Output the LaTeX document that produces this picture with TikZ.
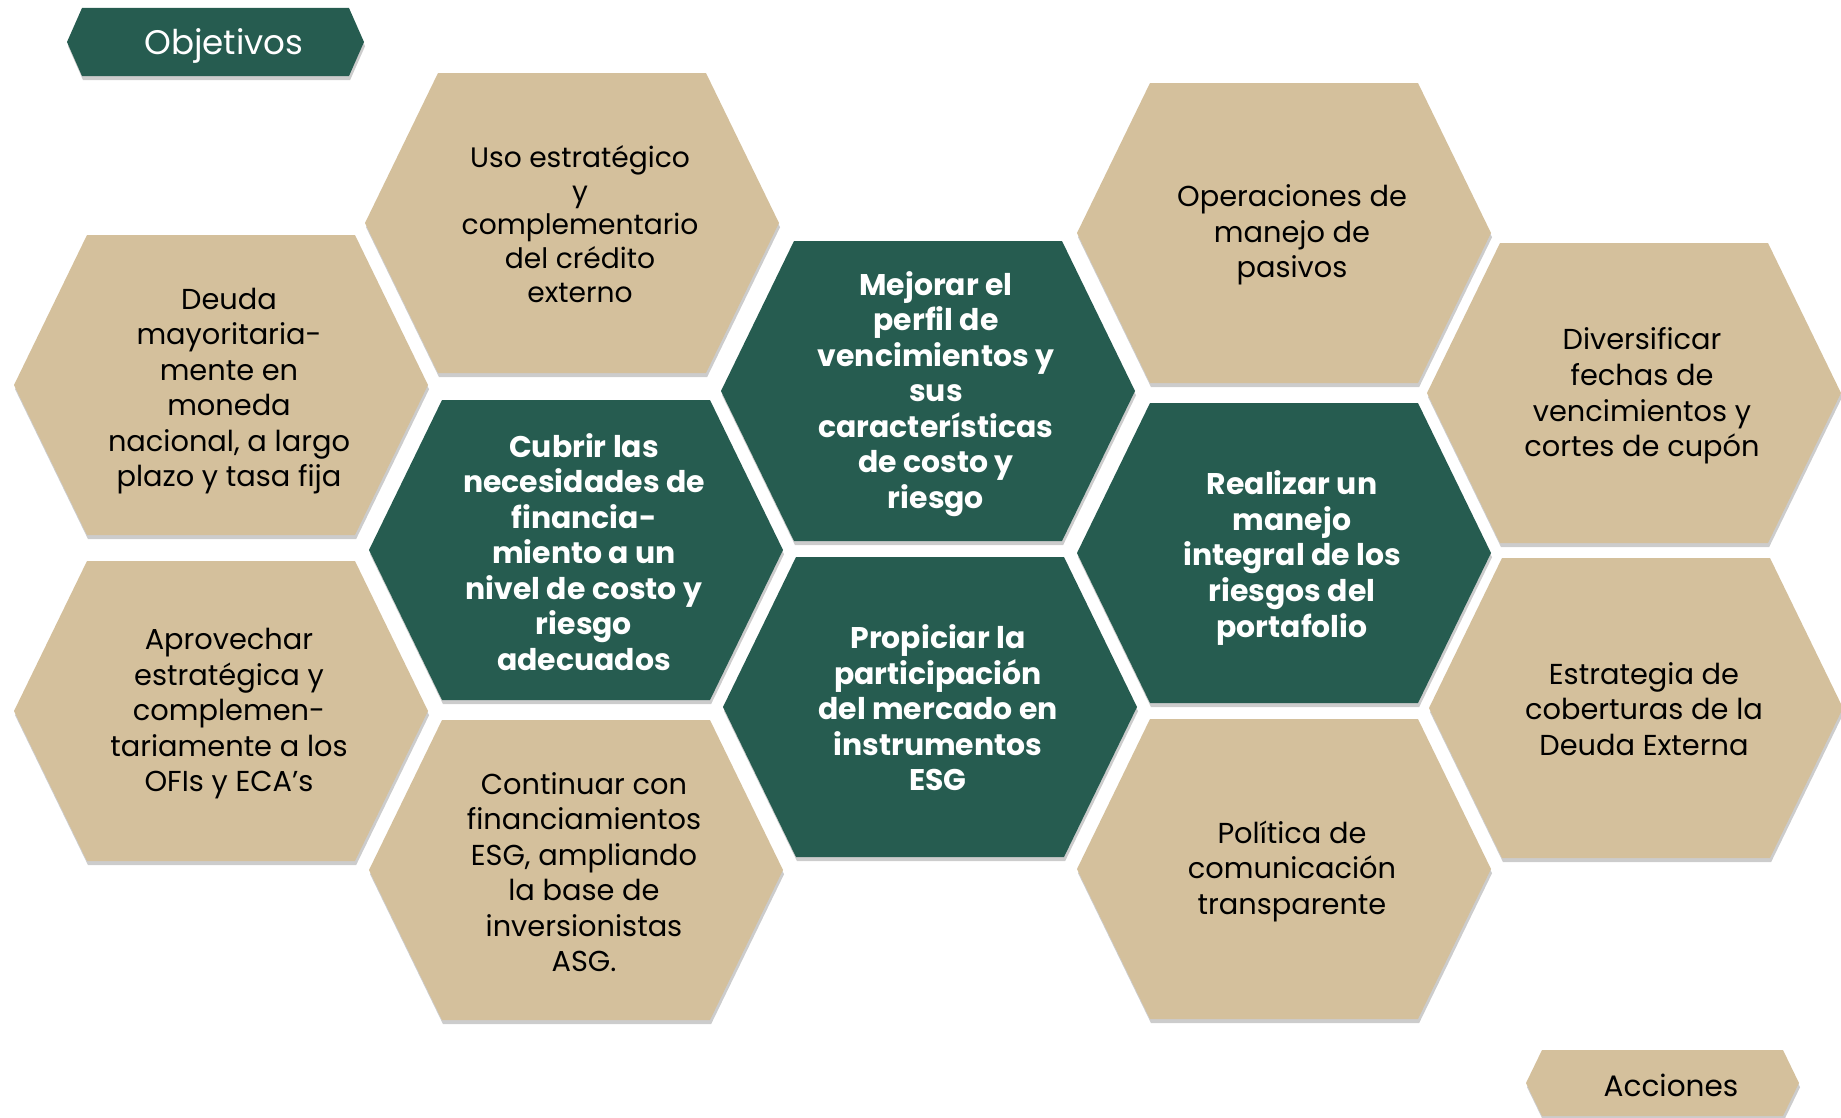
\documentclass[tikz,border=0pt]{standalone}
\usepackage{fontspec}
\setmainfont{Poppins}
\usetikzlibrary{shadows}
\definecolor{hexgreen}{RGB}{38,92,80}
\definecolor{hextan}{RGB}{212,192,156}
\tikzset{
  hexshadow/.style={drop shadow={shadow xshift=0.3pt, shadow yshift=-1.2pt, opacity=0.25, fill=black!80}},
  tanhex/.style={fill=hextan, hexshadow},
  greenhex/.style={fill=hexgreen, hexshadow},
  tantext/.style={align=center, inner sep=0pt, text=black, font=\fontsize{8.2pt}{10.1pt}\selectfont},
  greentext/.style={align=center, inner sep=0pt, text=white, font=\bfseries},
}
\begin{document}
\begin{tikzpicture}[x=0.01cm, y=-0.01cm]
            \useasboundingbox (0,0) rectangle (1841,1118);
            \clip (0,0) rectangle (1841,1118);
            {\fontsize{8.5pt}{10.1pt}\selectfont

            % Drawing tag Objetivos
            \fill [greenhex] (67,42) -- (82,8) -- (349,8) -- (364,42) -- (349,76) -- (82,76) -- cycle;%
            \node (objetivos) [tantext, text=white, font=\fontsize{9.7pt}{11pt}\selectfont] at (224,46) {Objetivos};%

            % Drawing hexagon uso
            \fill [tanhex] (365,223) -- (438,73) -- (706,73) -- (779,223) -- (706,373) -- (438,373) -- cycle;%
            \node (uso) [tantext, font=\fontsize{8pt}{9.6pt}\selectfont] at (580,224) {Uso estratégico\\ y\\ complementario\\ del crédito\\ externo};%

            % Drawing hexagon deuda
            \fill [tanhex] (14,385) -- (87,235) -- (355,235) -- (428,385) -- (355,535) -- (87,535) -- cycle;%
            \node (deuda) [tantext] at (229,391) {Deuda\\ mayoritaria-\\ mente en\\ moneda\\ nacional, a largo\\ plazo y tasa fija};%

            % Drawing hexagon aprovechar
            \fill [tanhex] (14,711) -- (87,561) -- (355,561) -- (428,711) -- (355,861) -- (87,861) -- cycle;%
            \node (aprovechar) [tantext] at (229,714) {Aprovechar\\ estratégica y\\ complemen-\\ tariamente a los\\ OFIs y ECA’s};%

            % Drawing hexagon cubrir
            \fill [greenhex] (369,550) -- (442,400) -- (710,400) -- (783,550) -- (710,700) -- (442,700) -- cycle;%
            \node (cubrir) [greentext] at (584,552) {Cubrir las\\ necesidades de\\ financia-\\ miento a un\\ nivel de costo y\\ riesgo\\ adecuados};%

            % Drawing hexagon continuar
            \fill [tanhex] (369,870) -- (442,720) -- (710,720) -- (783,870) -- (710,1020) -- (442,1020) -- cycle;%
            \node (continuar) [tantext] at (584,872) {Continuar con\\ financiamientos\\ ESG, ampliando\\ la base de\\ inversionistas\\ ASG.};%

            % Drawing hexagon mejorar
            \fill [greenhex] (721,391) -- (794,241) -- (1062,241) -- (1135,391) -- (1062,541) -- (794,541) -- cycle;%
            \node (mejorar) [greentext] at (936,394) {Mejorar el\\ perfil de\\ vencimientos y\\ sus\\ características\\ de costo y\\ riesgo};%

            % Drawing hexagon propiciar
            \fill [greenhex] (723,707) -- (796,557) -- (1064,557) -- (1137,707) -- (1064,857) -- (796,857) -- cycle;%
            \node (propiciar) [greentext] at (938,708) {Propiciar la\\ participación\\ del mercado en\\ instrumentos\\ ESG};%

            % Drawing hexagon operaciones
            \fill [tanhex] (1077,233) -- (1150,83) -- (1418,83) -- (1491,233) -- (1418,383) -- (1150,383) -- cycle;%
            \node (operaciones) [tantext] at (1292,235) {Operaciones de\\ manejo de\\ pasivos};%

            % Drawing hexagon realizar
            \fill [greenhex] (1077,553) -- (1150,403) -- (1418,403) -- (1491,553) -- (1418,703) -- (1150,703) -- cycle;%
            \node (realizar) [greentext] at (1292,558) {Realizar un\\ manejo\\ integral de los\\ riesgos del\\ portafolio};%

            % Drawing hexagon politica
            \fill [tanhex] (1077,869) -- (1150,719) -- (1418,719) -- (1491,869) -- (1418,1019) -- (1150,1019) -- cycle;%
            \node (politica) [tantext] at (1292,871) {Política de\\ comunicación\\ transparente};%

            % Drawing hexagon diversificar
            \fill [tanhex] (1427,393) -- (1500,243) -- (1768,243) -- (1841,393) -- (1768,543) -- (1500,543) -- cycle;%
            \node (diversificar) [tantext] at (1642,396) {Diversificar\\ fechas de\\ vencimientos y\\ cortes de cupón};%

            % Drawing hexagon estrategia
            \fill [tanhex] (1429,708) -- (1502,558) -- (1770,558) -- (1843,708) -- (1770,858) -- (1502,858) -- cycle;%
            \node (estrategia) [tantext] at (1644,709) {Estrategia de\\ coberturas de la\\ Deuda Externa};%

            % Drawing tag Acciones
            \fill [tanhex] (1526,1083) -- (1542,1050) -- (1783,1050) -- (1799,1083) -- (1783,1116) -- (1542,1116) -- cycle;%
            \node (acciones) [tantext, font=\fontsize{8.4pt}{10pt}\selectfont] at (1671,1085) {Acciones};%
            }
\end{tikzpicture}
\end{document}
